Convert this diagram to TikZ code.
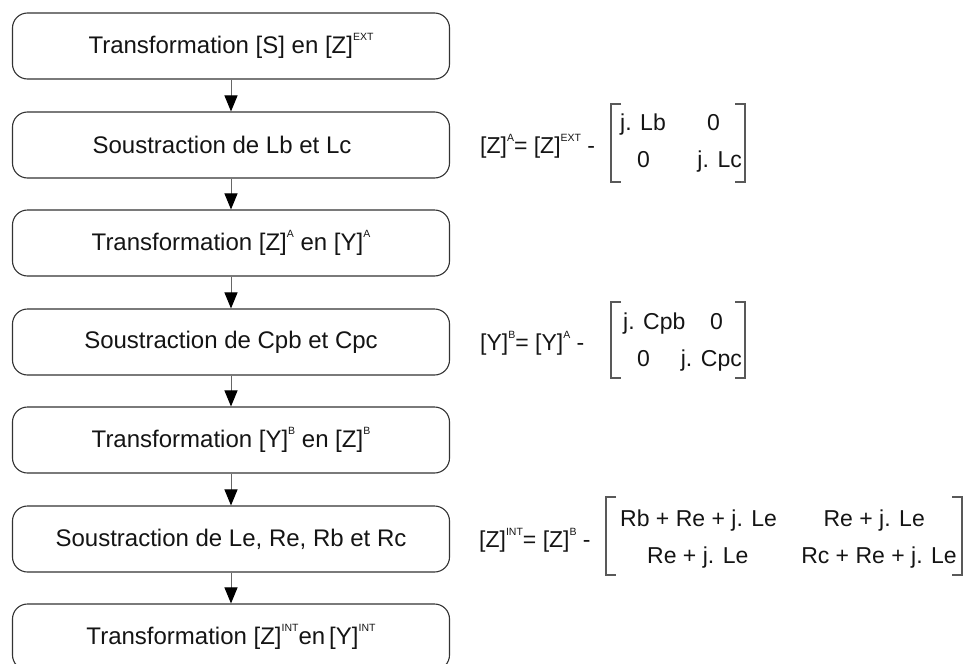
\documentclass[tikz,border=0pt]{standalone}
\usepackage{fontspec}
\setmainfont{Liberation Sans}
\usetikzlibrary{arrows.meta}
% small raised label used as an exponent
\newcommand\expo[1]{\raisebox{12.5pt}{\fontsize{10.5}{10.5}\selectfont #1}}
\begin{document}
\begin{tikzpicture}[x=1pt,y=-1pt,
  txt/.style={font=\fontsize{24}{28}\selectfont, text=black!92, inner sep=0pt},
  eq/.style={font=\fontsize{23}{27}\selectfont, text=black!92, inner sep=0pt},
  box/.style={txt, draw=black!80, line width=1.1pt, rounded corners=15pt,
    minimum width=437pt, minimum height=66pt},
  flow/.style={draw=black!60, line width=1pt,
    -{Triangle[width=13pt,length=16pt,color=black]}},
  brk/.style={draw=black!65, line width=1.4pt}]
\useasboundingbox (0,0) rectangle (978,664);
\clip (0,0) rectangle (978,664);

% flow of processing steps
\node[box] (b1) at (231,46)  {Transformation [S] en [Z]\expo{EXT}};
\node[box] (b2) at (231,145) {\hspace*{-18pt}Soustraction de Lb et Lc};
\node[box] (b3) at (231,243) {Transformation [Z]\expo{A} en [Y]\expo{A}};
\node[box] (b4) at (231,342) {Soustraction de Cpb et Cpc};
\node[box] (b5) at (231,440) {Transformation [Y]\expo{B} en [Z]\expo{B}};
\node[box] (b6) at (231,539) {Soustraction de Le, Re, Rb et Rc};
\node[box] (b7) at (231,637) {Transformation [Z]\expo{INT}en\,[Y]\expo{INT}};

\foreach \a/\b in {b1/b2,b2/b3,b3/b4,b4/b5,b5/b6,b6/b7}
  \draw[flow] (\a.south) -- (\b.north);

% first relation
\node[eq, anchor=base west] (e1) at (480,153.6) {[Z]\expo{A}= [Z]\expo{EXT} -};
\node[eq, anchor=base west] (e1a) at (620,130.6) {j. Lb};
\node[eq, anchor=base west] (e1b) at (707,130.6) {0};
\node[eq, anchor=base west] (e1c) at (637,167.6) {0};
\node[eq, anchor=base east] (e1d) at (742,167.6) {j. Lc};
\draw[brk] (621,104) -- (611,104) -- (611,182) -- (621,182);
\draw[brk] (735,104) -- (745,104) -- (745,182) -- (735,182);

% second relation
\node[eq, anchor=base west] (e2) at (480,350.6) {[Y]\expo{B}= [Y]\expo{A} -};
\node[eq, anchor=base west] (e2a) at (623,329.6) {j. Cpb};
\node[eq, anchor=base west] (e2b) at (710,329.6) {0};
\node[eq, anchor=base west] (e2c) at (637,366.6) {0};
\node[eq, anchor=base east] (e2d) at (742,366.6) {j. Cpc};
\draw[brk] (621,302) -- (611,302) -- (611,378) -- (621,378);
\draw[brk] (735,302) -- (745,302) -- (745,378) -- (735,378);

% third relation
\node[eq, anchor=base west] (e3) at (479,547.6) {[Z]\expo{INT}= [Z]\expo{B} -};
\node[eq, anchor=base west] (e3a) at (620,526.6) {Rb + Re + j. Le};
\node[eq, anchor=base east] (e3b) at (925,526.6) {Re + j. Le};
\node[eq, anchor=base west] (e3c) at (647,563.6) {Re + j. Le};
\node[eq, anchor=base east] (e3d) at (957,563.6) {Rc + Re + j. Le};
\draw[brk] (616,497) -- (606,497) -- (606,575) -- (616,575);
\draw[brk] (952,497) -- (962,497) -- (962,575) -- (952,575);
\end{tikzpicture}
\end{document}
